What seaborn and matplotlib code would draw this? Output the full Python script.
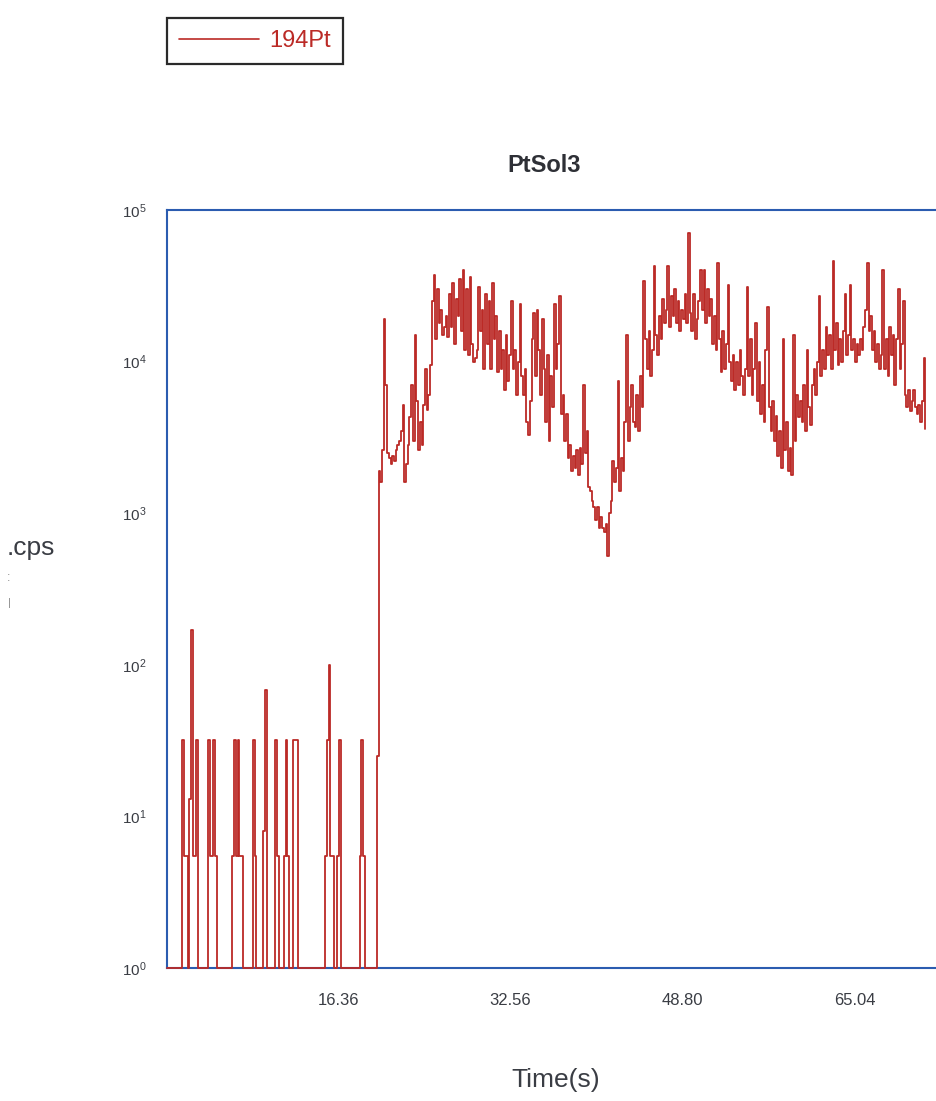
import numpy as np
import pandas as pd
import matplotlib
matplotlib.use("Agg")
import matplotlib.pyplot as plt
from matplotlib.ticker import NullLocator
import seaborn as sns

# ---------------- data ----------------
series_label = "194Pt"
chart_title = "PtSol3"
x_label = "Time(s)"
y_label = ".cps"

t_start = 0.12     # s, first sweep
t_step = 0.1624    # s, time per sweep

# gas blank / background counts (before the sample arrives)
background_cps = [
    1, 1, 1, 1, 1, 1, 1, 1, 1, 32, 5.5, 5.5, 1, 13, 170, 5.5, 5.5, 32, 1, 1,
    1, 1, 1, 1, 32, 5.5, 5.5, 32, 5.5, 1, 1, 1, 1, 1, 1, 1, 1, 1, 5.5, 32,
    5.5, 32, 5.5, 5.5, 1, 1, 1, 1, 1, 1, 32, 5.5, 1, 1, 1, 1, 8, 68, 1, 1,
    1, 1, 1, 32, 5.5, 1, 1, 1, 5.5, 32, 5.5, 1, 1, 32, 32, 32, 1, 1, 1, 1,
    1, 1, 1, 1, 1, 1, 1, 1, 1, 1, 1, 1, 5.5, 32, 100, 5.5, 5.5, 1, 1, 5.5,
    32, 1, 1, 1, 1, 1, 1, 1, 1, 1, 1, 1, 5.5, 32, 5.5, 1, 1, 1, 1, 1,
    1, 1, 25,
]

# 194Pt signal once the sample is in
signal_cps = [
    1900, 1600, 2600, 19000, 7000, 2500, 2300, 2100, 2400, 2200,
    2600, 2800, 3000, 3500, 5200, 1600, 2100, 2800, 4300, 7000,
    3000, 15000, 5500, 2600, 4000, 2800, 5200, 9000, 4800, 6000,
    9500, 25000, 37000, 14000, 30000, 18000, 22000, 15000, 17000, 20000,
    14500, 28000, 17000, 33000, 13000, 26000, 20000, 35000, 16000, 40000,
    12000, 30000, 11000, 36000, 13000, 10000, 10500, 12000, 31000, 16000,
    22000, 9000, 28000, 13000, 25000, 9000, 33000, 14000, 20000, 8500,
    16000, 9000, 12000, 6500, 15000, 7500, 11000, 25000, 9000, 12000,
    6000, 10000, 24000, 8000, 6000, 9000, 4000, 3300, 5500, 14000,
    21000, 8000, 22000, 12000, 6000, 19000, 9000, 4000, 11000, 3000,
    8000, 5000, 24000, 9000, 13000, 27000, 4500, 6000, 3000, 4500,
    2300, 2800, 1900, 2400, 2000, 2600, 1800, 2700, 2100, 7000,
    2500, 3500, 1500, 1400, 1200, 1100, 900, 1100, 800, 950,
    800, 750, 850, 520, 1000, 1200, 2200, 1600, 2000, 7500,
    1400, 2300, 1900, 4000, 15000, 3000, 5000, 7000, 4000, 3700,
    6000, 3500, 8000, 5000, 34000, 14000, 9000, 16000, 8000, 12000,
    43000, 15000, 11000, 20000, 14000, 26000, 18000, 22000, 43000, 17000,
    27000, 20000, 30000, 18000, 25000, 16000, 22000, 19000, 28000, 18000,
    70000, 21000, 16000, 28000, 14000, 19000, 25000, 40000, 22000, 40000,
    18000, 30000, 20000, 26000, 13000, 20000, 12000, 45000, 14000, 8500,
    16000, 9000, 13000, 32000, 10000, 7500, 11000, 6500, 10000, 7000,
    12000, 8000, 6000, 9000, 31000, 8000, 14000, 6000, 9000, 18000,
    5500, 10000, 4500, 7000, 4000, 12000, 23000, 5000, 3500, 5500,
    3000, 4400, 2400, 3500, 2000, 14000, 2600, 4000, 1900, 2700,
    1800, 15000, 3000, 6000, 4300, 5500, 4000, 7000, 3500, 12000,
    5000, 3800, 7000, 9000, 6000, 10000, 27000, 8000, 12000, 9000,
    17000, 11000, 15000, 9000, 46000, 12000, 18000, 9500, 14000, 10000,
    16000, 28000, 11000, 15000, 32000, 12000, 14000, 10000, 13000, 11000,
    14000, 12000, 17000, 22000, 45000, 16000, 20000, 12000, 16000, 10000,
    13000, 9000, 11000, 40000, 9000, 14000, 8000, 17000, 11000, 15000,
    7000, 14000, 30000, 9000, 13000, 25000, 6000, 5000, 6500, 4700,
    5500, 6500, 5000, 4500, 5200, 4000, 5500, 10500, 3600,
]

xtick_values = [16.36, 32.56, 48.80, 65.04]
xtick_labels = ["16.36", "32.56", "48.80", "65.04"]
ytick_values = [1, 10, 100, 1000, 10000, 100000]
ytick_labels = [r"$10^{0}$", r"$10^{1}$", r"$10^{2}$",
                r"$10^{3}$", r"$10^{4}$", r"$10^{5}$"]

cps = background_cps + signal_cps
time_s = t_start + t_step * np.arange(len(cps))
df = pd.DataFrame({"Time(s)": time_s, "cps": cps})

# ---------------- style ----------------
sns.set_theme(style="white")
plt.rcParams["font.family"] = ["Liberation Sans", "DejaVu Sans"]
plt.rcParams["mathtext.fontset"] = "custom"
plt.rcParams["mathtext.rm"] = "Liberation Sans"
plt.rcParams["mathtext.it"] = "Liberation Sans:italic"
plt.rcParams["mathtext.bf"] = "Liberation Sans:bold"

line_red = "#bb2a26"
spine_blue = "#2b5cb0"
text_grey = "#3a3d44"

W, H = 936, 1101
fig = plt.figure(figsize=(W / 100, H / 100), dpi=100)
fig.patch.set_facecolor("white")

# plot frame continues past the right edge of the picture
ax_left, ax_right, ax_top, ax_bottom = 167, 1030, 210, 968
ax = fig.add_axes([ax_left / W, 1 - ax_bottom / H,
                   (ax_right - ax_left) / W, (ax_bottom - ax_top) / H])

sns.lineplot(data=df, x="Time(s)", y="cps", ax=ax, color=line_red,
             linewidth=1.3, estimator=None, sort=False, label=series_label,
             drawstyle="steps-post")
for ln in ax.get_lines():
    ln.set_clip_on(False)
    ln.set_zorder(3)

ax.set_yscale("log")
ax.set_ylim(1, 1e5)
ax.set_xlim(0.12, 81.62)
ax.yaxis.set_minor_locator(NullLocator())
ax.set_yticks(ytick_values)
ax.set_yticklabels(ytick_labels)
ax.set_xticks(xtick_values)
ax.set_xticklabels(xtick_labels)
ax.tick_params(axis="y", length=0, pad=15, labelsize=11, labelcolor=text_grey)
ax.tick_params(axis="x", length=0, pad=18, labelsize=12, labelcolor=text_grey)

for s in ax.spines.values():
    s.set_color(spine_blue)
    s.set_linewidth(1.5)
ax.grid(False)

ax.set_xlabel(x_label, fontsize=19, color=text_grey, va="center")
ax.xaxis.set_label_coords(556 / W, 1 - 1080 / H, transform=fig.transFigure)
ax.set_ylabel(y_label, fontsize=19, color=text_grey, rotation=0,
              ha="left", va="center")
ax.yaxis.set_label_coords(7 / W, 1 - 548 / H, transform=fig.transFigure)
fig.text(9 / W, 1 - 578 / H, ":", fontsize=9, color="#8a8a8a",
         ha="center", va="center")
fig.text(9 / W, 1 - 603 / H, "|", fontsize=8, color="#8a8a8a",
         ha="center", va="center")

fig.text(544 / W, 1 - 165 / H, chart_title, ha="center", va="center",
         fontsize=17, fontweight="bold", color="#2e3036")

handles, labels = ax.get_legend_handles_labels()
ax.get_legend().remove()
leg = fig.legend(handles, labels, loc="upper left",
                 bbox_to_anchor=(167 / W, 1 - 18 / H), borderaxespad=0,
                 frameon=True, fancybox=False, framealpha=1,
                 edgecolor="#2a2a2a", fontsize=17, handlelength=3.4,
                 handletextpad=0.45, borderpad=0.5, labelcolor="linecolor")
leg.get_frame().set_linewidth(1.6)
for h in leg.legend_handles:
    h.set_linewidth(1.2)

fig.savefig("out.png", dpi=100, facecolor="white")
